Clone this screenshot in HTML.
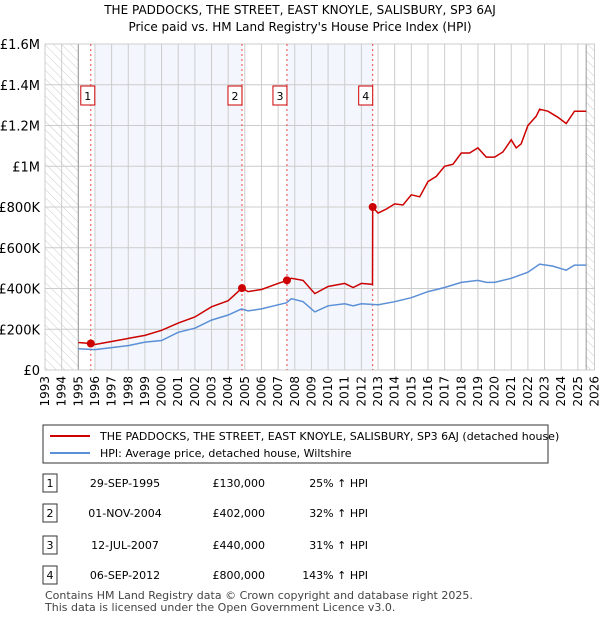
<!DOCTYPE html>
<html><head><meta charset="utf-8">
<style>
body{margin:0;background:#fff;font-family:"Liberation Sans","DejaVu Sans",sans-serif;}
svg text{font-family:"DejaVu Sans","Liberation Sans",sans-serif;}
</style></head>
<body>
<svg id="c" width="600" height="620" xmlns="http://www.w3.org/2000/svg">
<defs>
<pattern id="hatch" width="6" height="6" patternUnits="userSpaceOnUse" patternTransform="rotate(-45)">
<line x1="0" y1="0" x2="0" y2="6" stroke="#ccc" stroke-width="1"/>
</pattern>
</defs>
<text x="300" y="14" text-anchor="middle" font-size="12">THE PADDOCKS, THE STREET, EAST KNOYLE, SALISBURY, SP3 6AJ</text>
<text x="300" y="31" text-anchor="middle" font-size="12">Price paid vs. HM Land Registry's House Price Index (HPI)</text>
<g id="plot"></g>
<rect x="43" y="425" width="505" height="38" fill="#fff" stroke="#333"/>
<line x1="50" y1="436" x2="90" y2="436" stroke="#cc0000" stroke-width="2"/>
<text x="100" y="440" font-size="11">THE PADDOCKS, THE STREET, EAST KNOYLE, SALISBURY, SP3 6AJ (detached house)</text>
<line x1="50" y1="453" x2="90" y2="453" stroke="#5b8fd6" stroke-width="2"/>
<text x="100" y="457" font-size="11">HPI: Average price, detached house, Wiltshire</text>
<g id="table"></g>
<text x="45" y="599" font-size="11" fill="#444">Contains HM Land Registry data © Crown copyright and database right 2025.</text>
<text x="45" y="611" font-size="11" fill="#444">This data is licensed under the Open Government Licence v3.0.</text>
</svg>
<script>
const years=[1993,1994,1995,1996,1997,1998,1999,2000,2001,2002,2003,2004,2005,2006,2007,2008,2009,2010,2011,2012,2013,2014,2015,2016,2017,2018,2019,2020,2021,2022,2023,2024,2025,2026];
const yTicks=[0,200000,400000,600000,800000,1000000,1200000,1400000,1600000];
const yTickLabels=["£0","£200K","£400K","£600K","£800K","£1M","£1.2M","£1.4M","£1.6M"];
const hpiT=[1995,1996,1997,1998,1999,2000,2001,2002,2003,2004,2004.8,2005.2,2006,2007,2007.5,2007.8,2008.5,2009.2,2010,2011,2011.5,2012,2013,2014,2015,2016,2017,2018,2019,2019.5,2020,2021,2022,2022.7,2023.5,2024.3,2024.8,2025.5];
const hpiV=[104000,100000,110000,120000,137000,145000,185000,205000,245000,270000,300000,290000,300000,320000,330000,350000,335000,285000,315000,325000,315000,325000,320000,335000,355000,385000,405000,430000,440000,430000,430000,450000,480000,520000,510000,490000,515000,515000];
const redT=[1995,1995.75,1996,1997,1998,1999,2000,2001,2002,2003,2004,2004.83,2005.2,2006,2007,2007.53,2007.8,2008.5,2009.2,2010,2011,2011.5,2012,2012.67,2012.68,2013,2013.5,2014,2014.5,2015,2015.5,2016,2016.5,2017,2017.5,2018,2018.5,2019,2019.5,2020,2020.5,2021,2021.3,2021.6,2022,2022.5,2022.7,2023.2,2023.8,2024.3,2024.8,2025.5];
const redV=[135000,130000,125000,140000,155000,170000,195000,230000,260000,310000,340000,402000,385000,395000,425000,440000,450000,440000,375000,410000,425000,405000,425000,420000,800000,770000,790000,815000,810000,860000,850000,925000,950000,1000000,1010000,1065000,1065000,1090000,1045000,1045000,1070000,1130000,1090000,1110000,1200000,1245000,1280000,1270000,1240000,1210000,1270000,1270000];
const saleLabels=["1","2","3","4"];
const saleT=[1995.75,2004.83,2007.53,2012.68];
const saleV=[130000,402000,440000,800000];
const saleDates=["29-SEP-1995","01-NOV-2004","12-JUL-2007","06-SEP-2012"];
const salePrices=["£130,000","£402,000","£440,000","£800,000"];
const saleHpi=["25% ↑ HPI","32% ↑ HPI","31% ↑ HPI","143% ↑ HPI"];

const X0=45,X1=594.5,Y0=370,Y1=44;
const xs=t=>X0+(t-1993)/(2026-1993)*(X1-X0);
const ys=v=>Y0-v/1600000*(Y0-Y1);
const NS="http://www.w3.org/2000/svg";
const plot=document.getElementById('plot');
function mk(tag,attrs,parent){const e=document.createElementNS(NS,tag);for(const k in attrs)e.setAttribute(k,attrs[k]);(parent||plot).appendChild(e);return e;}

let r=mk('rect',{x:X0,y:Y1,width:X1-X0,height:Y0-Y1,fill:'#fff'});


[[1996,saleT[1]],[saleT[2],saleT[3]]].forEach(b=>{
 const e=mk('rect',{x:xs(b[0]),y:Y1,width:xs(b[1])-xs(b[0]),height:Y0-Y1,fill:'#f3f7fd'});
 
 
});
let h1=mk('rect',{x:X0,y:Y1,width:xs(1995)-X0,height:Y0-Y1,fill:'url(#hatch)'});


let h2=mk('rect',{x:xs(2025.5),y:Y1,width:X1-xs(2025.5),height:Y0-Y1,fill:'url(#hatch)'});


years.forEach(y=>{mk('line',{x1:xs(y),x2:xs(y),y1:Y1,y2:Y0,stroke:'#ccc'});
 const t=mk('text',{x:0,y:0,'font-size':12,'text-anchor':'end',transform:`translate(${xs(y)+4},${Y0+6}) rotate(-90)`});t.textContent=y;
 
 
});
yTicks.forEach((v,i)=>{mk('line',{x1:X0,x2:X1,y1:ys(v),y2:ys(v),stroke:'#ccc'});
 const t=mk('text',{x:40,y:ys(v)+5,'font-size':13,'text-anchor':'end'});t.textContent=yTickLabels[i];
 
 
});
mk('line',{x1:xs(1995),x2:xs(1995),y1:Y1,y2:Y0,stroke:'#999'});
mk('line',{x1:xs(2025.5),x2:xs(2025.5),y1:Y1,y2:Y0,stroke:'#999'});
mk('rect',{x:X0,y:Y1,width:X1-X0,height:Y0-Y1,fill:'none',stroke:'#ccc'});
saleT.forEach((t,i)=>{const l=mk('line',{x1:xs(t),x2:xs(t),y1:Y1,y2:Y0,stroke:'#e44','stroke-dasharray':'2,3','stroke-width':1});
 
 
 const g=mk('g',{});
 
 
 mk('rect',{x:i===0?xs(t)-10:xs(t)-10-4,y:86,width:14,height:19,fill:'#fff',stroke:'#c00'},g);
 const tx=mk('text',{x:(i===0?xs(t)-3:xs(t)-7),y:100,'font-size':11,'text-anchor':'middle'},g);tx.textContent=saleLabels[i];
});
function path(T,V,col,name){let d='';T.forEach((t,i)=>d+=(i?'L':'M')+xs(t).toFixed(1)+','+ys(V[i]).toFixed(1));
 const p=mk('path',{d:d,fill:'none',stroke:col,'stroke-width':1.5});
 
 }
path(hpiT,hpiV,'#5b8fd6','hpi-line');
path(redT,redV,'#cc0000','property-price-line');
saleT.forEach((t,i)=>{const c=mk('circle',{cx:xs(t),cy:ys(saleV[i]),r:4,fill:'#cc0000'});
 
 });
const tb=document.getElementById('table');
const rowY=[483,513,545,575];
saleLabels.forEach((l,i)=>{const y=rowY[i];
 mk('rect',{x:43,y:y-9,width:14,height:18,fill:'#fff',stroke:'#333'},tb);
 const a=mk('text',{x:50,y:y+4,'font-size':11,'text-anchor':'middle'},tb);a.textContent=l;
 
 
 const b=mk('text',{x:125,y:y+4,'font-size':11,'text-anchor':'middle'},tb);b.textContent=saleDates[i];
 
 
 const c=mk('text',{x:265,y:y+4,'font-size':11,'text-anchor':'end'},tb);c.textContent=salePrices[i];
 
 
 const d=mk('text',{x:368,y:y+4,'font-size':11,'text-anchor':'end'},tb);d.textContent=saleHpi[i];
 
 
});
</script>
</body></html>
